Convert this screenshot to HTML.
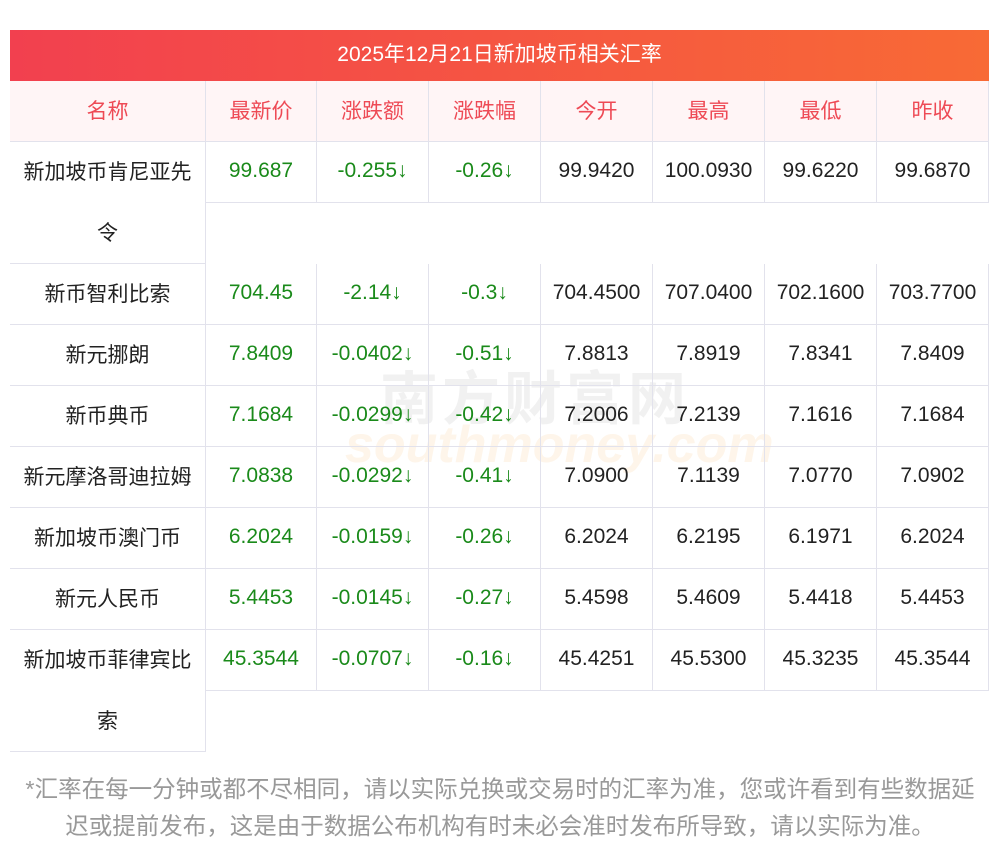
<!DOCTYPE html>
<html><head><meta charset="utf-8"><style>
body{margin:0;width:1000px;height:853px;background:#fff;position:relative;overflow:hidden;font-family:"Liberation Sans","Noto Sans CJK SC",sans-serif;}
.t{position:absolute;left:10px;top:30px;width:979px;height:51px;background:linear-gradient(90deg,#f2404f,#f86a35);color:#fff;font-size:21px;line-height:49px;text-align:center;}
.c{position:absolute;box-sizing:border-box;text-align:center;font-size:21px;color:#222;display:flex;align-items:center;justify-content:center;padding-bottom:3px;}
.b{border-right:1px solid #e2e2ec;border-bottom:1px solid #e2e2ec;}
.h{background:#fff5f6;color:#ee4a55;}
.g{color:#1a8a1a;}
.f{position:absolute;left:0px;width:1000px;text-align:center;color:#999;font-size:23.5px;}
.wm{position:absolute;color:rgba(200,200,200,0.25);font-weight:bold;}
</style></head><body>
<div class="t">2025年12月21日新加坡币相关汇率</div>
<div class="wm" style="left:380px;top:352px;font-size:58px;letter-spacing:4px;">南方财富网</div>
<div class="wm" style="left:345px;top:415px;font-size:52px;font-style:italic;color:rgba(250,215,170,0.25);">southmoney.com</div>
<div id="g"></div>
<div class="f" style="top:770px;">*汇率在每一分钟或都不尽相同，请以实际兑换或交易时的汇率为准，您或许看到有些数据延</div>
<div class="f" style="top:807px;">迟或提前发布，这是由于数据公布机构有时未必会准时发布所导致，请以实际为准。</div>
<script>
var xs=[10,205,317,429,541,653,765,877,989];
var hd=["名称","最新价","涨跌额","涨跌幅","今开","最高","最低","昨收"];
var rows=[
["新加坡币肯尼亚先<br>令","99.687","-0.255↓","-0.26↓","99.9420","100.0930","99.6220","99.6870"],
["新币智利比索","704.45","-2.14↓","-0.3↓","704.4500","707.0400","702.1600","703.7700"],
["新元挪朗","7.8409","-0.0402↓","-0.51↓","7.8813","7.8919","7.8341","7.8409"],
["新币典币","7.1684","-0.0299↓","-0.42↓","7.2006","7.2139","7.1616","7.1684"],
["新元摩洛哥迪拉姆","7.0838","-0.0292↓","-0.41↓","7.0900","7.1139","7.0770","7.0902"],
["新加坡币澳门币","6.2024","-0.0159↓","-0.26↓","6.2024","6.2195","6.1971","6.2024"],
["新元人民币","5.4453","-0.0145↓","-0.27↓","5.4598","5.4609","5.4418","5.4453"],
["新加坡币菲律宾比<br>索","45.3544","-0.0707↓","-0.16↓","45.4251","45.5300","45.3235","45.3544"]];
var h="";
function cell(x,y,w,hh,cls,txt,extra){h+='<div class="c '+cls+'" style="left:'+x+'px;top:'+y+'px;width:'+w+'px;height:'+hh+'px;'+(extra||'')+'">'+txt+'</div>';}
for(var i=0;i<8;i++){cell(xs[i],81,xs[i+1]-xs[i],61,"h"+(i>0?" b":""),hd[i],(i==0?"border-bottom:1px solid #e2e2ec;":"")+(i==1?"border-left:1px solid #e2e2ec;":""));}
var y=142;
rows.forEach(function(r){
 var tall=r[0].indexOf("<br>")>=0;var H=tall?122:61;
 cell(10,y,195,H,"",'<span style="line-height:61px">'+r[0]+'</span>',"border-bottom:1px solid #e2e2ec;padding-bottom:0;");
 for(var i=1;i<8;i++){cell(xs[i],y,xs[i+1]-xs[i],61,"b"+(i<=3?" g":""),r[i],i==1?"border-left:1px solid #e2e2ec;":"");}
 if(tall)h+='<div style="position:absolute;left:205px;top:'+(y+61)+'px;width:1px;height:61px;background:#e2e2ec"></div>';
 y+=H;
});
document.getElementById("g").innerHTML=h;
</script>
</body></html>
